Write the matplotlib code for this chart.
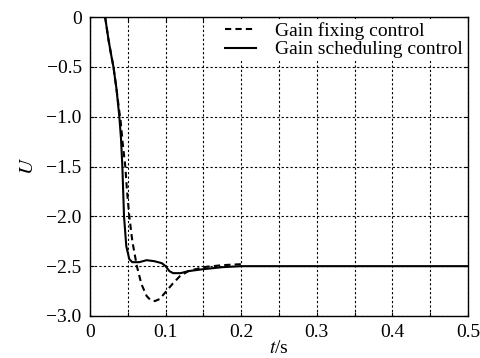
import numpy as np
import matplotlib
matplotlib.use('Agg')
import matplotlib.pyplot as plt

# gain fixing control (dashed)
t_fix = [0.020, 0.0245, 0.028, 0.031, 0.035, 0.0388, 0.0406, 0.043, 0.0467, 0.049,
         0.052, 0.056, 0.062, 0.068, 0.075, 0.080, 0.086, 0.092, 0.100, 0.110,
         0.119, 0.130, 0.150, 0.175, 0.200]
u_fix = [0.0, -0.23, -0.38, -0.5, -0.72, -0.95, -1.05, -1.25, -1.5, -1.75,
         -2.0, -2.25, -2.5, -2.68, -2.8, -2.84, -2.85, -2.83, -2.76, -2.67,
         -2.6, -2.55, -2.51, -2.49, -2.48]

# gain scheduling control (solid)
t_sch = [0.020, 0.0245, 0.028, 0.031, 0.035, 0.0388, 0.041, 0.0428, 0.045, 0.048,
         0.052, 0.056, 0.065, 0.075, 0.085, 0.095, 0.100, 0.105, 0.110, 0.120,
         0.130, 0.150, 0.175, 0.200, 0.500]
u_sch = [0.0, -0.23, -0.38, -0.5, -0.72, -1.0, -1.22, -1.5, -2.0, -2.3,
         -2.43, -2.46, -2.46, -2.44, -2.45, -2.47, -2.50, -2.55, -2.57, -2.57,
         -2.55, -2.53, -2.51, -2.50, -2.50]

x_ticks = np.arange(0, 0.51, 0.05)
x_labels = ['0', '', '0.1', '', '0.2', '', '0.3', '', '0.4', '', '0.5']
y_ticks = [0, -0.5, -1.0, -1.5, -2.0, -2.5, -3.0]
y_labels = ['0', '\u22120.5', '\u22121.0', '\u22121.5', '\u22122.0', '\u22122.5', '\u22123.0']

plt.rcParams['font.family'] = ['Liberation Serif', 'DejaVu Serif']
plt.rcParams['mathtext.fontset'] = 'stix'

fig = plt.figure(figsize=(4.81, 3.58), dpi=100)
ax = fig.add_axes([90 / 481, 1 - 316 / 358, 378 / 481, 299 / 358])

ax.plot(t_sch, u_sch, color='black', lw=1.5, label='Gain scheduling control')
ax.plot(t_fix, u_fix, color='black', lw=1.5, ls=(0, (3, 2)), label='Gain fixing control')

ax.set_xlim(0, 0.5)
ax.set_ylim(-3.0, 0)
ax.set_xticks(x_ticks)
ax.set_xticklabels(x_labels)
ax.set_yticks(y_ticks)
ax.set_yticklabels(y_labels)
ax.tick_params(direction='in', top=True, right=True, length=3, labelsize=14, pad=6)
ax.grid(True, color='black', ls=(0, (2, 2)), lw=0.8)
for s in ax.spines.values():
    s.set_linewidth(1.0)

ax.set_xlabel('$t$/s', fontsize=14, labelpad=-1)
ax.set_ylabel('$U$', fontsize=15, labelpad=6)

h, l = ax.get_legend_handles_labels()
leg = ax.legend(h[::-1], l[::-1], loc='upper right', fontsize=14, frameon=True,
                fancybox=False, borderpad=0.15, handlelength=1.6, handletextpad=1.0,
                labelspacing=0.05, borderaxespad=0.1)
leg.get_frame().set_edgecolor('none')
leg.get_frame().set_facecolor('white')
leg.get_frame().set_alpha(1)

fig.savefig('out.png', dpi=100)
